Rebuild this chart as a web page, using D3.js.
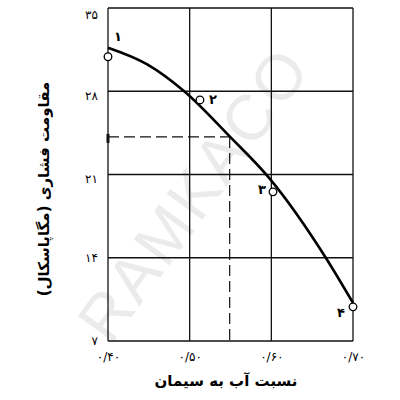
<!DOCTYPE html>
<html><head><meta charset="utf-8">
<script src="https://cdn.jsdelivr.net/npm/d3@7"></script>
<style>body{margin:0;background:#fff}svg{display:block;font-family:"DejaVu Sans",sans-serif}</style>
</head><body>
<svg id="c" width="400" height="400"></svg>
<script>
const xTicks = [0.40, 0.50, 0.60, 0.70];
const xTickLabels = ["۰/۴۰", "۰/۵۰", "۰/۶۰", "۰/۷۰"];
const yTicks = [7, 14, 21, 28, 35];
const yTickLabels = ["۷", "۱۴", "۲۱", "۲۸", "۳۵"];
const curveX = [0.40, 0.448, 0.494, 0.549, 0.598, 0.668, 0.70];
const curveY = [31.66, 30.26, 27.96, 24.2, 20.65, 13.85, 10.2];
const pointX = [0.40, 0.5126, 0.602, 0.70];
const pointY = [30.9, 27.27, 19.54, 9.87];
const pointLabels = ["۱", "۲", "۳", "۴"];
const guideX = 0.549, guideY = 24.16;
const xTitle = "نسبت آب به سیمان";
const yTitle = "مقاومت فشاری (مگاپاسکال)";

const svg = d3.select("#c");
const x = d3.scaleLinear().domain([0.40, 0.70]).range([108, 353]);
const y = d3.scaleLinear().domain([7, 35]).range([341, 8]);

// watermark
svg.append("text").attr("transform","translate(198,197) rotate(-54)")
  .attr("text-anchor","middle").attr("dominant-baseline","middle")
  .attr("font-size",64).attr("font-family","Liberation Sans, sans-serif")
  .attr("fill","#ebebeb").attr("letter-spacing",3).text("RAMKACO");

const g = svg.append("g");
// grid
g.selectAll("line.v").data(xTicks).join("line")
  .attr("x1",d=>x(d)).attr("x2",d=>x(d)).attr("y1",y(35)).attr("y2",y(7))
  .attr("stroke","#111").attr("stroke-width",1.3);
g.selectAll("line.h").data(yTicks).join("line")
  .attr("y1",d=>y(d)).attr("y2",d=>y(d)).attr("x1",x(0.40)).attr("x2",x(0.70))
  .attr("stroke","#111").attr("stroke-width",1.3);

// dashed guides
g.append("line").attr("x1",x(0.40)).attr("x2",x(guideX)).attr("y1",y(guideY)).attr("y2",y(guideY))
  .attr("stroke","#111").attr("stroke-width",1.2).attr("stroke-dasharray","11,5");
g.append("line").attr("x1",x(guideX)).attr("x2",x(guideX)).attr("y1",y(guideY)).attr("y2",y(7))
  .attr("stroke","#111").attr("stroke-width",1.2).attr("stroke-dasharray","11,5");
g.append("line").attr("x1",x(0.40)).attr("x2",x(0.40)).attr("y1",y(guideY)-3).attr("y2",y(guideY)+6)
  .attr("stroke","#111").attr("stroke-width",3);

// curve
const line = d3.line().x(d=>x(d[0])).y(d=>y(d[1])).curve(d3.curveMonotoneX);
g.append("path").datum(d3.zip(curveX, curveY)).attr("d",line)
  .attr("fill","none").attr("stroke","#000").attr("stroke-width",2.6);

// points
const pts = d3.zip(pointX, pointY, pointLabels);
g.selectAll("circle").data(pts).join("circle")
  .attr("cx",d=>x(d[0])).attr("cy",d=>y(d[1])).attr("r",3.8)
  .attr("fill","#fff").attr("stroke","#000").attr("stroke-width",1.3);
const offs = [[10,-19],[13,1],[-11,-1],[-12,7]];
g.selectAll("text.pl").data(pts).join("text")
  .attr("x",(d,i)=>x(d[0])+offs[i][0]).attr("y",(d,i)=>y(d[1])+offs[i][1])
  .attr("text-anchor","middle").attr("dominant-baseline","middle")
  .attr("font-size",13).attr("font-weight","bold").text(d=>d[2]);

// axis tick labels
const xa = d3.axisBottom(x).tickValues(xTicks).tickSize(0).tickFormat((d,i)=>xTickLabels[i]);
const xg = svg.append("g").attr("transform",`translate(0,${y(7)})`).call(xa);
xg.select(".domain").remove();
xg.selectAll("text").attr("font-size",12).attr("font-family","DejaVu Sans").attr("dy",0).attr("y",20).attr("fill","#000");

const ya = d3.axisLeft(y).tickValues(yTicks).tickSize(0).tickFormat((d,i)=>yTickLabels[i]);
const yg = svg.append("g").attr("transform",`translate(${x(0.40)},0)`).call(ya);
yg.select(".domain").remove();
yg.selectAll("text").attr("font-size",12).attr("font-family","DejaVu Sans").attr("x",-10).attr("fill","#000");
yg.selectAll(".tick").filter(d=>d===35).select("text").attr("dy","0.9em");
yg.selectAll(".tick").filter(d=>d===28||d===21).select("text").attr("dy","0.7em");

// titles
svg.append("text").attr("x",226).attr("y",381).attr("text-anchor","middle")
  .attr("dominant-baseline","middle").attr("font-size",15).attr("font-weight","bold").text(xTitle);
svg.append("text").attr("transform","translate(44,189) rotate(-90)").attr("text-anchor","middle")
  .attr("dominant-baseline","middle").attr("font-size",15).attr("font-weight","bold").text(yTitle);
</script>
</body></html>
